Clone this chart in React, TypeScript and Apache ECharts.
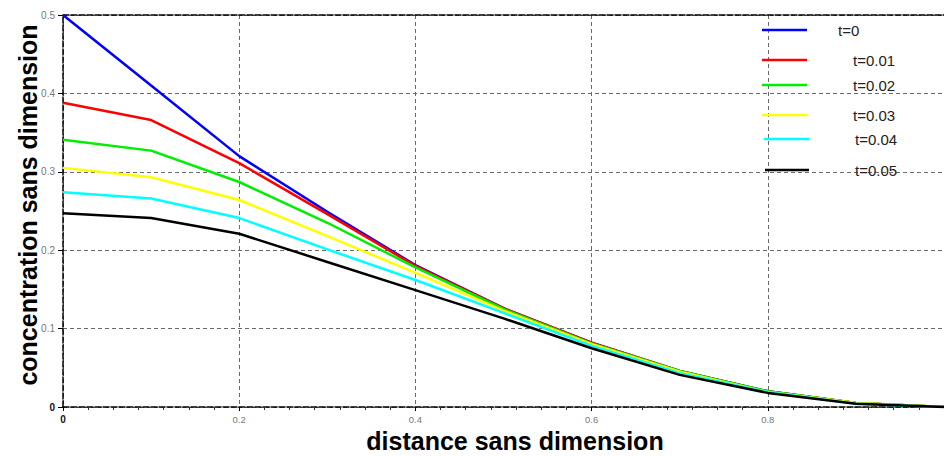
import React, { useEffect, useRef } from "react";
import * as echarts from "echarts";

const distances = [0, 0.1, 0.2, 0.3, 0.4, 0.5, 0.6, 0.7, 0.8, 0.9, 1.0];
const seriesNames = ["t=0", "t=0.01", "t=0.02", "t=0.03", "t=0.04", "t=0.05"];
const seriesColors = ["#0000ff", "#ff0000", "#00ee00", "#ffff00", "#00ffff", "#000000"];
const conc_t0 = [0.5, 0.41, 0.32, 0.249, 0.181, 0.126, 0.082, 0.046, 0.02, 0.005, 0];
const conc_t001 = [0.388, 0.366, 0.311, 0.246, 0.18, 0.126, 0.082, 0.046, 0.02, 0.005, 0];
const conc_t002 = [0.341, 0.327, 0.287, 0.235, 0.178, 0.125, 0.081, 0.046, 0.02, 0.005, 0];
const conc_t003 = [0.305, 0.293, 0.264, 0.218, 0.171, 0.123, 0.08, 0.045, 0.019, 0.005, 0];
const conc_t004 = [0.274, 0.266, 0.241, 0.201, 0.162, 0.12, 0.078, 0.043, 0.019, 0.004, 0];
const conc_t005 = [0.247, 0.241, 0.221, 0.185, 0.149, 0.113, 0.075, 0.041, 0.018, 0.004, 0];
const allSeries = [conc_t0, conc_t001, conc_t002, conc_t003, conc_t004, conc_t005];

const xTitle = "distance sans dimension";
const yTitle = "concentration sans dimension";

// legend layout (pixel placement of the hand-drawn legend)
const legendLayout = [
  { x1: 762, x2: 807, y: 30, tx: 838 },
  { x1: 762, x2: 807, y: 60, tx: 853 },
  { x1: 762, x2: 807, y: 85, tx: 853 },
  { x1: 762, x2: 807, y: 115, tx: 853 },
  { x1: 764, x2: 809, y: 139, tx: 855 },
  { x1: 765, x2: 809, y: 170, tx: 855 },
];

export default function App() {
  const ref = useRef<HTMLDivElement>(null);
  useEffect(() => {
    if (!ref.current) return;
    const chart = echarts.init(ref.current, null, { renderer: "svg" });
    const labelFormatter = (v: number) => (v === 0 ? "{z|0}" : String(Math.round(v * 10) / 10));
    const labelRich = { z: { color: "#111", fontSize: 10, fontWeight: "bold", fontFamily: "Liberation Sans" } };

    const legendGraphics: any[] = [];
    seriesNames.forEach((name, i) => {
      const l = legendLayout[i];
      legendGraphics.push({
        type: "line",
        shape: { x1: l.x1, y1: l.y, x2: l.x2, y2: l.y },
        style: { stroke: seriesColors[i], lineWidth: 2.5 },
        z: 100,
      });
      legendGraphics.push({
        type: "text",
        x: l.tx,
        y: l.y,
        style: {
          text: name,
          fill: "#222",
          font: "15px 'Liberation Sans', Arial, sans-serif",
          textVerticalAlign: "middle",
          verticalAlign: "middle",
        },
        z: 100,
      });
    });

    chart.setOption({
      animation: false,
      backgroundColor: "#ffffff",
      grid: { left: 63, right: -11, top: 15, bottom: 49, containLabel: false },
      xAxis: [
        {
          type: "value",
          min: 0,
          max: 1,
          interval: 0.2,
          axisLine: { show: true, onZero: false, lineStyle: { color: "#000", width: 1.5, type: [6, 2] } },
          axisTick: { show: true, length: 4, lineStyle: { color: "#000" } },
          minorTick: { show: true, splitNumber: 7, length: 3, lineStyle: { color: "#333" } },
          axisLabel: {
            show: true,
            margin: 7,
            fontSize: 9.5,
            color: "#777",
            fontFamily: "Liberation Sans",
            showMaxLabel: false,
            formatter: labelFormatter,
            rich: labelRich,
          },
          splitLine: { show: true, lineStyle: { color: "#6a6a6a", width: 1, type: [4, 3] } },
        },
        {
          type: "value",
          position: "top",
          min: 0,
          max: 1,
          interval: 0.2,
          axisLine: { show: true, onZero: false, lineStyle: { color: "#000", width: 1.5, type: [6, 2] } },
          axisTick: { show: false },
          axisLabel: { show: false },
          splitLine: { show: false },
        },
      ],
      yAxis: {
        type: "value",
        min: 0,
        max: 0.5,
        interval: 0.1,
        axisLine: { show: true, onZero: false, lineStyle: { color: "#000", width: 1.5, type: [6, 2] } },
        axisTick: { show: true, length: 5, lineStyle: { color: "#000" } },
        axisLabel: {
          margin: 8,
          fontSize: 10,
          color: "#777",
          fontFamily: "Liberation Sans",
          formatter: labelFormatter,
          rich: labelRich,
        },
        splitLine: { show: true, lineStyle: { color: "#6a6a6a", width: 1, type: [4, 3] } },
      },
      series: allSeries.map((vals, i) => ({
        name: seriesNames[i],
        type: "line",
        xAxisIndex: 0,
        data: distances.map((d, j) => [d, vals[j]]),
        showSymbol: false,
        symbol: "none",
        lineStyle: { color: seriesColors[i], width: 2.5 },
        itemStyle: { color: seriesColors[i] },
        clip: true,
        z: 10 + i,
      })),
      graphic: [
        ...legendGraphics,
        {
          type: "text",
          x: 515,
          y: 441,
          style: {
            text: xTitle,
            fill: "#000",
            font: "bold 25px 'Liberation Sans', Arial, sans-serif",
            textAlign: "center",
            textVerticalAlign: "middle",
            align: "center",
            verticalAlign: "middle",
          },
        },
        {
          type: "text",
          x: 28,
          y: 205,
          rotation: Math.PI / 2,
          style: {
            text: yTitle,
            fill: "#000",
            font: "bold 25px 'Liberation Sans', Arial, sans-serif",
            textAlign: "center",
            textVerticalAlign: "middle",
            align: "center",
            verticalAlign: "middle",
          },
        },
      ],
    });
    return () => chart.dispose();
  }, []);
  return (
    <div
      ref={ref}
      style={{ position: "fixed", left: 0, top: 0, width: 944, height: 456, background: "#fff" }}
    />
  );
}
